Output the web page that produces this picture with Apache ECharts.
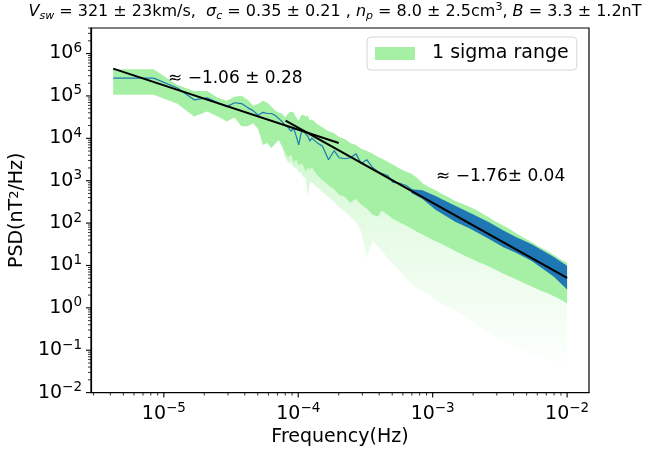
<!DOCTYPE html>
<html><head><meta charset="utf-8">
<script src="https://cdn.jsdelivr.net/npm/echarts@6/dist/echarts.min.js"></script>
<style>html,body{margin:0;padding:0;background:#fff}#c{width:655px;height:452px}</style>
</head><body><div id="c"></div>
<script>
// ---- data (frequency in Hz, PSD in nT^2/Hz) ----
const freq = [4.2e-6, 8.4e-6, 1.26e-5, 1.68e-5, 2.1e-5, 2.52e-5, 2.94e-5, 3.36e-5, 3.78e-5, 4.2e-5,
  4.62e-5, 5.04e-5, 5.46e-5, 5.88e-5, 6.3e-5, 6.72e-5, 7.14e-5, 7.56e-5, 7.98e-5, 8.4e-5,
  8.82e-5, 9.24e-5, 9.66e-5, 1.008e-4, 1.05e-4, 1.092e-4, 1.134e-4, 1.176e-4, 1.218e-4, 1.26e-4,
  1.386e-4, 1.512e-4, 1.68e-4, 1.848e-4, 2.016e-4, 2.226e-4, 2.436e-4, 2.688e-4, 2.94e-4, 3.234e-4,
  3.57e-4, 3.906e-4, 4.2e-4, 4.62e-4, 5.04e-4, 5.67e-4, 6.3e-4, 6.93e-4, 7.56e-4, 8.4e-4,
  9.45e-4, 1.05e-3, 1.176e-3, 1.302e-3, 1.47e-3, 1.68e-3, 1.89e-3, 2.1e-3, 2.352e-3, 2.646e-3,
  2.94e-3, 3.36e-3, 3.78e-3, 4.2e-3, 4.83e-3, 5.46e-3, 6.3e-3, 7.14e-3, 7.98e-3, 8.82e-3, 1.0e-2];
const psd = [2.63e5, 2.63e5, 1.54e5, 8.1e4, 9.0e4, 6.9e4, 5.6e4, 6.9e4, 6.6e4, 5.3e4,
  4.5e4, 3.5e4, 4.1e4, 3.85e4, 3.85e4, 3.5e4, 2.95e4, 2.5e4, 2.03e4, 1.82e4,
  1.47e4, 1.73e4, 1.13e4, 6.98e3, 1.32e4, 1.55e4, 1.26e4, 1.13e4, 8.6e3, 1.01e4,
  7.8e3, 6.6e3, 3.13e3, 5.1e3, 3.48e3, 3.3e3, 3.48e3, 4.3e3, 2.53e3, 3.13e3,
  2.04e3, 1.65e3, 1.48e3, 1.33e3, 920, 870, 780, 630, 510, 538,
  370, 333, 269, 217, 175, 134, 114, 97, 78.7, 63.5,
  51.3, 41.4, 33.5, 28.5, 21.8, 17.6, 13.5, 10.9, 8.8, 7.1, 4.9];
const sigmaUpper = [4.26e5, 4.26e5, 1.81e5, 1.315e5, 1.315e5, 9.05e4, 7.71e4, 9.55e4, 1.01e5, 8.13e4,
  5.9e4, 6.57e4, 7.71e4, 6.93e4, 5.6e4, 4.52e4, 4.06e4, 3.85e4, 3.11e4, 3.85e4,
  4.29e4, 4.06e4, 3.11e4, 2.65e4, 3.46e4, 3.65e4, 3.28e4, 3.46e4, 2.65e4, 2.8e4,
  2.14e4, 1.82e4, 1.47e4, 1.32e4, 1.07e4, 9.6e3, 7.76e3, 6.98e3, 5.64e3, 5.06e3,
  4.31e3, 3.67e3, 3.3e3, 2.81e3, 2.4e3, 1.94e3, 1.65e3, 1.48e3, 1.2e3, 869,
  702, 598, 483, 412, 333, 283, 241, 206, 166, 134,
  108, 87.5, 70.7, 57.1, 43.7, 35.3, 27.0, 21.8, 17.6, 14.2, 11.5];
const sigmaLower = [1.06e5, 1.06e5, 6.57e4, 3.28e4, 4.29e4, 3.28e4, 2.51e4, 3.11e4, 1.92e4, 1.92e4,
  2.26e4, 1.64e4, 6.98e3, 7.76e3, 5.94e3, 7.36e3, 9.1e3, 6.61e3, 4.55e3, 3.48e3,
  4.09e3, 2.67e3, 3.13e3, 2.27e3, 2.53e3, 2.27e3, 1.56e3, 2.04e3, 1.84e3, 2.04e3,
  1.33e3, 1.02e3, 781, 631, 458, 412, 299, 370, 269, 217,
  157, 142, 195, 157, 127, 103, 87.5, 74.6, 63.5, 54.1,
  43.7, 37.3, 31.7, 27.0, 21.8, 17.6, 15.0, 12.8, 10.9, 9.29,
  7.92, 6.4, 5.45, 4.64, 3.75, 3.2, 2.58, 2.2, 1.87, 1.6, 1.29];
const sigmaFloor = [1.06e5, 1.06e5, 6.57e4, 3.28e4, 4.29e4, 3.28e4, 2.51e4, 3.11e4, 1.92e4, 1.92e4,
  2.26e4, 1.64e4, 6.98e3, 7.76e3, 5.94e3, 7.36e3, 9.1e3, 6.61e3, 3.48e3, 2.67e3,
  2.67e3, 2.04e3, 2.04e3, 1.56e3, 1.56e3, 1.2e3, 1.2e3, 412, 917, 917,
  702, 538, 412, 315, 241, 185, 142, 108, 63.5, 15.0,
  37.3, 28.5, 21.8, 15.0, 10.9, 7.5, 4.9, 3.96, 3.03, 2.45,
  1.98, 1.51, 1.16, 1.04, 0.841, 0.679, 0.52, 0.398, 0.322, 0.26,
  0.21, 0.17, 0.137, 0.117, 0.0942, 0.0802, 0.0648, 0.0582, 0.0524, 0.0471, 0.0423];
const envFreq = [6.93e-4, 8.4e-4, 1.05e-3, 1.47e-3, 1.89e-3, 2.646e-3, 3.36e-3, 4.2e-3, 5.46e-3, 7.98e-3, 1.0e-2];
const envHigh = [630, 598, 435, 255, 175, 103, 67, 46.1, 31.7, 15.9, 9.8];
const envLow = [510, 370, 206, 108, 74.6, 41.5, 27, 19.6, 12.8, 5.45, 2.72];
const fitLowFreq = [4.2e-6, 2.0e-4];
const fitLowPsd = [4.42e5, 7.76e3];
const fitHighFreq = [8.05e-5, 1.0e-2];
const fitHighPsd = [2.61e4, 5.08];
const xTickExp = [-5, -4, -3, -2];
const yTickExp = [-2, -1, 0, 1, 2, 3, 4, 5, 6];
const titleText = '{i|V}{sb|sw}{n| = 321 ± 23km/s,  }{i|σ}{sb|c}{n| = 0.35 ± 0.21 , }{i|n}{sb|p}{n| = 8.0 ± 2.5cm}{sp|3}{n|, }{i|B}{n| = 3.3 ± 1.2nT}';
const noteLow = '≈ −1.06 ± 0.28';
const noteHigh = '≈ −1.76± 0.04';
const legendName = '1 sigma range';

// ---- layout ----
const FONT = 'DejaVu Sans';
const X_MIN = -5.542, X_MAX = -1.837, Y_MIN = -2, Y_MAX = 6.603;
const L = Math.log10;
const GREEN = '#a5f0a5', BLUE = '#1f77b4';

function minorTicks(lo, hi) {
  const out = [];
  for (let d = Math.floor(lo) - 1; d <= Math.ceil(hi); d++) {
    for (let m = 2; m <= 9; m++) {
      const v = d + L(m);
      if (v > lo + 1e-6 && v < hi - 1e-6) out.push(v);
    }
  }
  return out;
}
const xMinor = minorTicks(X_MIN, X_MAX);
const yMinor = minorTicks(Y_MIN, Y_MAX);
// kind: 0 x-minor, 1 x-major, 2 y-minor, 3 y-major
const tickMarks = [].concat(xMinor.map(v => [v, 0]), xTickExp.map(v => [v, 1]),
  yMinor.map(v => [v, 2]), yTickExp.map(v => [v, 3]));

function powLabel(v) {
  const e = Math.round(v);
  if (Math.abs(v - e) > 1e-6) return '';
  return '{b|10}{s|' + (e < 0 ? '\u2212' + (-e) : String(e)) + '}';
}
const labelRich = {
  b: { fontFamily: FONT, fontSize: 19, color: '#000', lineHeight: 24 },
  s: { fontFamily: FONT, fontSize: 13.5, color: '#000', verticalAlign: 'top', lineHeight: 13 }
};

const pairs = (fx, vy) => fx.map((f, i) => [L(f), L(vy[i])]);

// band between lo and hi drawn as one polygon through the axes' own coordinate mapping
function band(name, fx, hi, lo, fill, z) {
  const data = fx.map((f, i) => [L(f), L(lo[i]), L(hi[i])]);
  return {
    type: 'custom', name, z, silent: true, animation: false, data,
    encode: { x: 0, y: [1, 2] },
    renderItem(params, api) {
      if (params.dataIndex !== 0) return null;
      const top = data.map(d => api.coord([d[0], d[2]]));
      const bot = data.map(d => api.coord([d[0], d[1]])).reverse();
      return { type: 'polygon', shape: { points: top.concat(bot) }, style: { fill: fill, stroke: null } };
    }
  };
}
const line = (name, fx, vy, color, width, z) => ({
  type: 'line', name, z, symbol: 'none', showSymbol: false, silent: true, animation: false,
  data: pairs(fx, vy), lineStyle: { color, width }
});

const faintFill = new echarts.graphic.LinearGradient(0, 0, 0, 1, [
  { offset: 0, color: 'rgba(144,238,144,0.55)' },
  { offset: 0.5, color: 'rgba(144,238,144,0.22)' },
  { offset: 1, color: 'rgba(144,238,144,0.02)' }]);

const tickSeries = {
  type: 'custom', name: 'ticks', silent: true, clip: false, z: 10, animation: false,
  data: tickMarks, encode: { x: 0, y: 1 },
  renderItem(params, api) {
    const v = api.value(0), k = api.value(1);
    const len = (k === 1 || k === 3) ? 5 : 3;
    const w = (k === 1 || k === 3) ? 1.1 : 0.8;
    if (k < 2) {
      const p = api.coord([v, Y_MIN]);
      return { type: 'line', shape: { x1: p[0], y1: p[1], x2: p[0], y2: p[1] + len }, style: { stroke: '#000', lineWidth: w } };
    }
    const p = api.coord([X_MIN, v]);
    return { type: 'line', shape: { x1: p[0] - len, y1: p[1], x2: p[0], y2: p[1] }, style: { stroke: '#000', lineWidth: w } };
  }
};

const chart = echarts.init(document.getElementById('c'), null, { renderer: 'canvas' });
chart.setOption({
  animation: false,
  backgroundColor: '#fff',
  grid: { left: 90, right: 66, top: 28, bottom: 53, show: true, borderColor: '#000', borderWidth: 1.2, backgroundColor: 'transparent' },
  xAxis: {
    type: 'value', min: X_MIN, max: X_MAX, position: 'bottom',
    name: 'Frequency(Hz)', nameLocation: 'middle', nameGap: 27,
    nameTextStyle: { fontFamily: FONT, fontSize: 19, color: '#000' },
    axisLine: { show: true, onZero: false, lineStyle: { color: '#000', width: 1.2 } },
    axisTick: { show: false },
    axisLabel: { customValues: xTickExp, formatter: powLabel, margin: 9, rich: labelRich, color: '#000' },
    splitLine: { show: false }
  },
  yAxis: {
    type: 'value', min: Y_MIN, max: Y_MAX, position: 'left',
    name: 'PSD(nT{s|2}/Hz)', nameLocation: 'middle', nameGap: 48,
    nameTextStyle: { fontFamily: FONT, fontSize: 19, color: '#000',
      rich: { s: { fontFamily: FONT, fontSize: 13, verticalAlign: 'top', lineHeight: 12, color: '#000' } } },
    axisLine: { show: true, onZero: false, lineStyle: { color: '#000', width: 1.2 } },
    axisTick: { show: false },
    axisLabel: { customValues: yTickExp, formatter: powLabel, margin: 9, rich: labelRich, color: '#000' },
    splitLine: { show: false }
  },
  legend: {
    data: [{ name: legendName, icon: 'rect', itemStyle: { color: GREEN } }],
    left: 367, top: 37, padding: [7, 8, 7, 8], itemWidth: 40, itemHeight: 13,
    backgroundColor: '#fff', borderColor: '#d6d6d6', borderWidth: 1, borderRadius: 4,
    selectedMode: false,
    textStyle: { fontFamily: FONT, fontSize: 19, color: '#000', padding: [0, 0, 0, 12] }
  },
  graphic: [
    { type: 'text', x: 335, y: 12, silent: true, style: {
      text: titleText, align: 'center', verticalAlign: 'middle', fill: '#000',
      fontFamily: FONT, fontSize: 16,
      rich: {
        n: { fontFamily: FONT, fontSize: 16, lineHeight: 20, fill: '#000' },
        i: { fontFamily: FONT, fontSize: 16, fontStyle: 'italic', lineHeight: 20, fill: '#000' },
        sb: { fontFamily: FONT, fontSize: 11, fontStyle: 'italic', verticalAlign: 'bottom', lineHeight: 12, fill: '#000' },
        sp: { fontFamily: FONT, fontSize: 11, verticalAlign: 'top', lineHeight: 12, fill: '#000' }
      } } },
    { type: 'text', x: 168, y: 79, silent: true, z: 100, style: { text: noteLow, fill: '#000', fontFamily: FONT, fontSize: 17, verticalAlign: 'middle' } },
    { type: 'text', x: 436, y: 177, silent: true, z: 100, style: { text: noteHigh, fill: '#000', fontFamily: FONT, fontSize: 17, verticalAlign: 'middle' } }
  ],
  series: [
    band('faint', freq, sigmaLower, sigmaFloor, faintFill, 1),
    band(legendName, freq, sigmaUpper, sigmaLower, GREEN, 2),
    band('envelope', envFreq, envHigh, envLow, BLUE, 3),
    line('psd', freq, psd, BLUE, 1.2, 4),
    line('fitLow', fitLowFreq, fitLowPsd, '#000', 2, 5),
    line('fitHigh', fitHighFreq, fitHighPsd, '#000', 2, 5),
    tickSeries
  ]
});
</script>
</body></html>
